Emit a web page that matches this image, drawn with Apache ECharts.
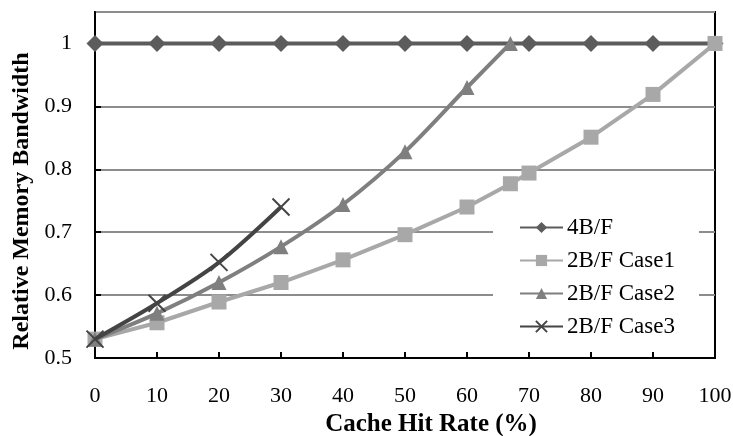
<!DOCTYPE html>
<html>
<head>
<meta charset="utf-8">
<script src="https://cdn.jsdelivr.net/npm/echarts@6/dist/echarts.min.js"></script>
<style>
  html, body { margin: 0; padding: 0; background: #fff; }
  #chart { width: 733px; height: 436px; }
</style>
</head>
<body>
<div id="chart"></div>
<script>
// Cache hit rate (%) and relative memory bandwidth per configuration
const hitRates4BF = [0, 10, 20, 30, 40, 50, 60, 70, 80, 90, 100];
const bw4BF = [1, 1, 1, 1, 1, 1, 1, 1, 1, 1, 1];

const hitRatesCase1 = [0, 10, 20, 30, 40, 50, 60, 67, 70, 80, 90, 100];
const bwCase1 = [0.53, 0.556, 0.589, 0.62, 0.656, 0.696, 0.74, 0.777, 0.794, 0.851, 0.919, 1.0];

const hitRatesCase2 = [0, 10, 20, 30, 40, 50, 60, 67];
const bwCase2 = [0.53, 0.571, 0.62, 0.677, 0.744, 0.828, 0.93, 1.0];

const hitRatesCase3 = [0, 10, 20, 30];
const bwCase3 = [0.53, 0.587, 0.652, 0.74];

const seriesNames = ['4B/F', '2B/F Case1', '2B/F Case2', '2B/F Case3'];

const pairs = (xs, ys) => xs.map((x, i) => [x, ys[i]]);

const serif = '"Liberation Serif", "Times New Roman", serif';

const chart = echarts.init(document.getElementById('chart'), null, { renderer: 'canvas' });

chart.setOption({
  animation: false,
  backgroundColor: '#ffffff',
  grid: {
    left: 95, right: 18, top: 12, bottom: 78,
    outerBoundsMode: 'none',
    containLabel: false,
    show: true, borderColor: '#000', borderWidth: 2, backgroundColor: 'transparent'
  },
  legend: {
    orient: 'vertical',
    left: 493,
    top: 210,
    backgroundColor: '#ffffff',
    padding: [6, 24, 6, 26],
    itemWidth: 43,
    itemHeight: 14,
    itemGap: 10,
    textStyle: { fontFamily: serif, fontSize: 23, color: '#000', padding: [0, 0, 0, -1] },
    data: seriesNames
  },
  xAxis: {
    type: 'value',
    min: 0, max: 100, interval: 10,
    name: 'Cache Hit Rate (%)',
    nameLocation: 'middle',
    nameGap: 46,
    nameTextStyle: {
      fontFamily: serif, fontSize: 25, fontWeight: 'bold', color: '#000',
      padding: [0, 0, 0, 52]
    },
    axisLine: { onZero: false, lineStyle: { color: '#000', width: 2 } },
    axisTick: { inside: true, length: 6, lineStyle: { color: '#000', width: 2 } },
    axisLabel: { fontFamily: serif, fontSize: 22, color: '#000', margin: 27 },
    splitLine: { show: false }
  },
  yAxis: {
    type: 'value',
    min: 0.5, max: 1.05, interval: 0.1,
    name: 'Relative Memory Bandwidth',
    nameLocation: 'middle',
    nameGap: 61,
    nameTextStyle: {
      fontFamily: serif, fontSize: 24, fontWeight: 'bold', color: '#000',
      padding: [0, 32, 0, 0]
    },
    axisLine: { onZero: false, lineStyle: { color: '#000', width: 2 } },
    axisTick: { inside: true, length: 6, lineStyle: { color: '#000', width: 2 } },
    axisLabel: {
      fontFamily: serif, fontSize: 22, color: '#000', margin: 23,
      showMaxLabel: false,
      formatter: v => (Math.abs(v - 1) < 1e-9 ? '1' : String(Math.round(v * 10) / 10))
    },
    splitLine: { show: true, lineStyle: { color: '#8c8c8c', width: 2 } }
  },
  series: [
    {
      name: seriesNames[0], type: 'line',
      data: pairs(hitRates4BF, bw4BF),
      symbol: 'diamond', symbolSize: 17,
      lineStyle: { color: '#5c5c5c', width: 4 },
      itemStyle: { color: '#5c5c5c' },
      z: 3
    },
    {
      name: seriesNames[1], type: 'line',
      data: pairs(hitRatesCase1, bwCase1),
      symbol: 'rect', symbolSize: 15,
      lineStyle: { color: '#a8a8a8', width: 4 },
      itemStyle: { color: '#a8a8a8' },
      z: 4
    },
    {
      name: seriesNames[2], type: 'line',
      data: pairs(hitRatesCase2, bwCase2),
      smooth: 0.3,
      symbol: 'triangle', symbolSize: 15,
      lineStyle: { color: '#7f7f7f', width: 4 },
      itemStyle: { color: '#7f7f7f' },
      z: 5
    },
    {
      name: seriesNames[3], type: 'line',
      data: pairs(hitRatesCase3, bwCase3),
      smooth: 0.3,
      symbol: 'path://M0,0 L10,10 M10,0 L0,10', symbolSize: 17,
      lineStyle: { color: '#444444', width: 4 },
      itemStyle: { color: 'none', borderColor: '#444444', borderWidth: 2 },
      z: 6
    }
  ]
});
</script>
</body>
</html>
